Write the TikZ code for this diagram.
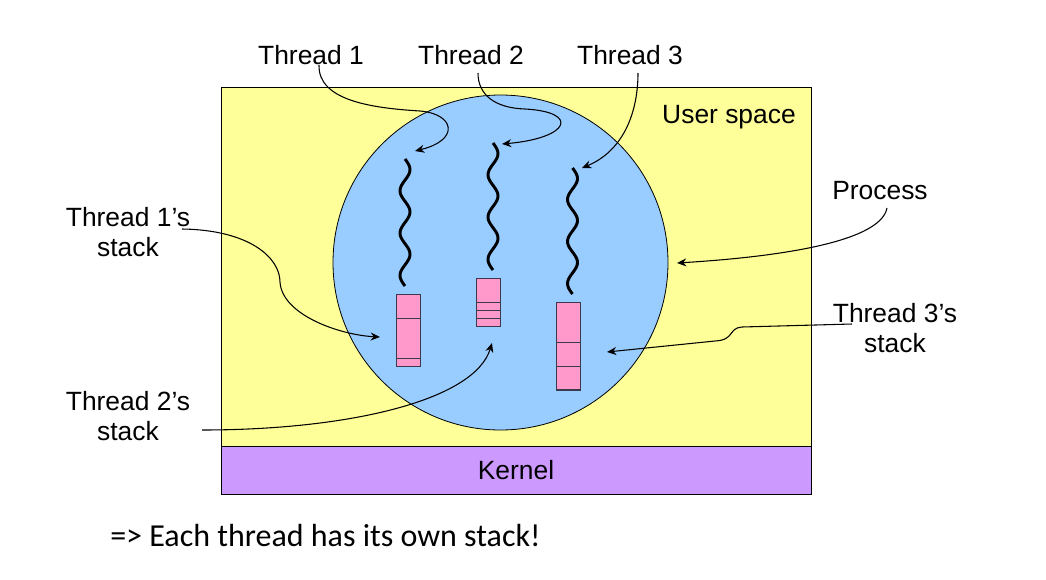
\documentclass[tikz,border=0pt]{standalone}
\usepackage{fontspec}
\setmainfont{Liberation Sans}
\newfontfamily\calib{Carlito}
\usetikzlibrary{arrows.meta}
\definecolor{userY}{HTML}{FFFF99}
\definecolor{procB}{HTML}{99CCFF}
\definecolor{kernP}{HTML}{CC99FF}
\definecolor{stackP}{HTML}{FF99CC}
\definecolor{stackE}{HTML}{3A3A4A}
\tikzset{
  lbl/.style={font=\fontsize{19.8}{23}\selectfont, align=center, inner sep=0pt},
  ptr/.style={draw=black, line width=0.8pt, -{Stealth[length=7pt,width=6pt]}},
  wave/.style={draw=black, line width=2.2pt},
  stackbox/.style={draw=stackE, fill=stackP, line width=0.8pt},
  divider/.style={draw=stackE, line width=0.8pt}
}
\begin{document}
\begin{tikzpicture}[x=0.75pt,y=-0.75pt]
\useasboundingbox (0,0) rectangle (1046,579);
% user space and kernel
\node[draw=black, fill=userY, line width=0.6pt, minimum width=442.5pt, minimum height=269.25pt, anchor=north west, inner sep=0pt] (user) at (221,87) {};
\node[draw=black, fill=kernP, line width=0.6pt, minimum width=442.5pt, minimum height=36pt, anchor=north west, inner sep=0pt] (kernel) at (221,446) {};
\node[lbl] (kernT) at (516,470) {Kernel};
\node[lbl] (userT) at (729,117) {User space};
% process circle
\node[draw=black, fill=procB, line width=0.6pt, circle, minimum size=251.25pt, inner sep=0pt] (proc) at (500.5,262.5) {};
% threads
\draw[wave] plot[smooth, domain=0:1, samples=61, variable=\t] ({405+5*sin(3*360*\t)}, {159+127*\t});
\draw[wave] plot[smooth, domain=0:1, samples=61, variable=\t] ({493+5*sin(3*360*\t)}, {143+127*\t});
\draw[wave] plot[smooth, domain=0:1, samples=61, variable=\t] ({572.5+5*sin(3*360*\t)}, {168+126*\t});
% stacks
\draw[stackbox] (396.7,294.3) rectangle (420.7,366.7);
\draw[divider] (396.7,318.7) -- (420.7,318.7);
\draw[divider] (396.7,358.3) -- (420.7,358.3);
\draw[stackbox] (476.3,278.3) rectangle (500.3,326.7);
\draw[divider] (476.3,302.3) -- (500.3,302.3);
\draw[divider] (476.3,310.7) -- (500.3,310.7);
\draw[divider] (476.3,318.7) -- (500.3,318.7);
\draw[stackbox] (556.3,302.3) rectangle (580.3,390);
\draw[divider] (556.3,342.3) -- (580.3,342.3);
\draw[divider] (556.3,366.7) -- (580.3,366.7);
% labels
\node[lbl] (t1) at (311,55) {Thread 1};
\node[lbl] (t2) at (471,55) {Thread 2};
\node[lbl] (t3) at (630,55) {Thread 3};
\node[lbl] (s1) at (128,232) {Thread 1’s\\stack};
\node[lbl] (s2) at (128,416) {Thread 2’s\\stack};
\node[lbl] (s3) at (895,328) {Thread 3’s\\stack};
\node[lbl] (pr) at (880,191) {Process};
\node[inner sep=0pt, anchor=west, font=\calib\fontsize{24}{28}\selectfont] (note) at (110,535) {=> Each thread has its own stack!};
% connector ends
\coordinate (t1s) at (319,65);
\coordinate (t1e) at (415,151);
\coordinate (t2s) at (478,73);
\coordinate (t2e) at (502,144);
\coordinate (t3s) at (638,73);
\coordinate (t3e) at (582,168);
\coordinate (s1s) at (182,229);
\coordinate (s1e) at (380,337);
\coordinate (s2s) at (202,430);
\coordinate (s2e) at (492,343);
\coordinate (s3s) at (852,324);
\coordinate (s3e) at (607,352);
\coordinate (prs) at (887,208);
\coordinate (pre) at (677,263);
% connectors
\draw[ptr] (t1s) .. controls (318,100) and (370,108) .. (420,111) .. controls (455,114) and (460,140) .. (t1e);
\draw[ptr] (t2s) .. controls (478,95) and (495,108) .. (525,109) .. controls (580,112) and (570,138) .. (t2e);
\draw[ptr] (t3s) .. controls (638,110) and (625,150) .. (t3e);
\draw[ptr] (s1s) .. controls (250,230) and (280,258) .. (280,282) .. controls (282,315) and (340,335) .. (s1e);
\draw[ptr] (s2s) .. controls (350,430) and (475,400) .. (s2e);
\draw[ptr] (s3s) -- (742,327) .. controls (728,328) and (735,340) .. (715,341) -- (s3e);
\draw[ptr] (prs) .. controls (880,245) and (760,258) .. (pre);
\end{tikzpicture}
\end{document}
